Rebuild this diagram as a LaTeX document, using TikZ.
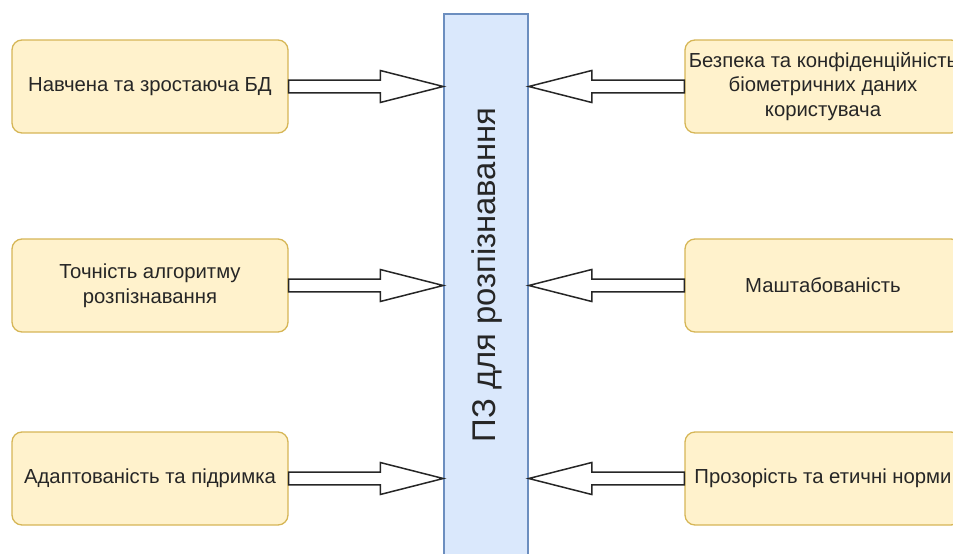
\documentclass[tikz,border=0pt]{standalone}
\usepackage{fontspec}
\setmainfont{Liberation Sans}
\usetikzlibrary{calc}
\definecolor{boxfill}{HTML}{FFF2CC}
\definecolor{boxline}{HTML}{D6B656}
\definecolor{barfill}{HTML}{DAE8FC}
\definecolor{barline}{HTML}{6C8EBF}
\tikzset{
  factor/.style={draw=boxline, fill=boxfill, line width=1.3pt, rounded corners=10pt,
    minimum width=276pt, minimum height=93pt, inner sep=0pt, align=center,
    font=\fontsize{20.3}{24.5}\selectfont, text=black!85},
  blockarr/.style={draw=black!85, fill=white, line width=1.5pt, line join=miter},
}
\newcommand\blockarr[2]{%
  \coordinate (s) at (#1);
  \coordinate (t) at (#2);
  \coordinate (b) at ($(t)!63pt!(s)$);
  \draw[blockarr] ($(s)!6.3pt!90:(t)$) -- ($(b)!6.3pt!-90:(s)$) -- ($(b)!16pt!-90:(s)$) -- (t)
    -- ($(b)!16pt!90:(s)$) -- ($(b)!6.3pt!90:(s)$) -- ($(s)!6.3pt!-90:(t)$) -- cycle;
}
\begin{document}
\begin{tikzpicture}[x=1pt,y=-1pt]
\useasboundingbox (0,0) rectangle (953,554);
\clip (0,0) rectangle (953,554);
% central bar
\node[draw=barline, fill=barfill, line width=1.5pt, minimum width=84pt, minimum height=550pt,
  inner sep=0pt, anchor=north] (bar) at (486,13) {};
\node[rotate=90, font=\fontsize{32.8}{38}\selectfont, text=black!85] (bartext) at (487,275) {ПЗ для розпізнавання};
% left boxes
\node[factor] (l1) at (150,86.5) {Навчена та зростаюча БД};
\node[factor] (l2) at (150,285.5) {Точність алгоритму\\розпізнавання};
\node[factor] (l3) at (150,478.5) {Адаптованість та підримка};
% right boxes
\node[factor] (r1) at (823,86.5) {Безпека та конфіденційність\\біометричних даних\\користувача};
\node[factor] (r2) at (823,285.5) {Маштабованість};
\node[factor] (r3) at (823,478.5) {Прозорість та етичні норми};
% arrows
\blockarr{l1.east}{l1.east -| bar.west}
\blockarr{l2.east}{l2.east -| bar.west}
\blockarr{l3.east}{l3.east -| bar.west}
\blockarr{r1.west}{r1.west -| bar.east}
\blockarr{r2.west}{r2.west -| bar.east}
\blockarr{r3.west}{r3.west -| bar.east}
\end{tikzpicture}
\end{document}
